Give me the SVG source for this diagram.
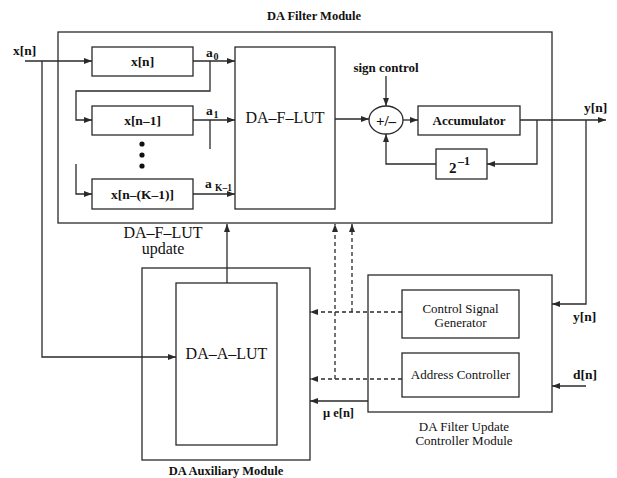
<svg xmlns="http://www.w3.org/2000/svg" width="617" height="478" viewBox="0 0 617 478">
<defs>
<style>
.b{fill:none;stroke:#2a2a2a;stroke-width:1.3}
.l{fill:none;stroke:#2a2a2a;stroke-width:1.3}
.d{fill:none;stroke:#2a2a2a;stroke-width:1.3;stroke-dasharray:4 3}
text{font-family:"Liberation Serif","Times New Roman",serif;fill:#111}
.bt{font-weight:bold;font-size:13.5px}
.rt{font-size:13px}
.big{font-size:16px}
.cap{font-weight:bold;font-size:12.5px}
</style>
<marker id="ah" viewBox="0 0 8 6" refX="8" refY="3" markerWidth="8" markerHeight="6" markerUnits="userSpaceOnUse" orient="auto">
<path d="M0,0 L8,3 L0,6 z" fill="#2a2a2a"/>
</marker>
</defs>
<rect width="617" height="478" fill="#fff"/>

<g id="filter-module">
<rect class="b" x="58" y="32" width="494" height="191"/>
<text class="cap" x="314" y="20" text-anchor="middle">DA Filter Module</text>
</g>
<g id="xn-box">
<rect class="b" x="92" y="47" width="101" height="29"/>
<text class="bt" x="142.5" y="66" text-anchor="middle">x[n]</text>
</g>
<g id="xn1-box">
<rect class="b" x="92" y="106" width="101" height="29"/>
<text class="bt" x="142.5" y="125" text-anchor="middle">x[n–1]</text>
</g>
<g id="xnk-box">
<rect class="b" x="92" y="179" width="101" height="30"/>
<text class="bt" x="142.5" y="199" text-anchor="middle">x[n–(K–1)]</text>
</g>
<g id="dots">
<circle cx="142" cy="144" r="2.6" fill="#111"/>
<circle cx="142" cy="155" r="2.6" fill="#111"/>
<circle cx="142" cy="166" r="2.6" fill="#111"/>
</g>
<g id="da-f-lut">
<rect class="b" x="235" y="47" width="100" height="162"/>
<text class="big" x="285" y="123" text-anchor="middle">DA–F–LUT</text>
</g>
<g id="addsub">
<ellipse class="b" cx="386" cy="120" rx="17" ry="14"/>
<text x="386" y="125.5" text-anchor="middle" style="font-weight:bold;font-size:15px">+/–</text>
</g>
<g id="accumulator">
<rect class="b" x="418" y="106" width="102" height="29"/>
<text class="bt" x="469" y="125" text-anchor="middle" style="font-size:13px">Accumulator</text>
</g>
<g id="shift">
<rect class="b" x="436" y="149" width="51" height="30"/>
<text class="bt" x="449" y="173" style="font-size:15px">2</text>
<text class="bt" x="458" y="165" style="font-size:12px">–1</text>
</g>
<g id="aux-module">
<rect class="b" x="142" y="268" width="168" height="192"/>
<text class="cap" x="226" y="475" text-anchor="middle">DA Auxiliary Module</text>
</g>
<g id="da-a-lut">
<rect class="b" x="176" y="283" width="101" height="162"/>
<text class="big" x="226.5" y="359" text-anchor="middle">DA–A–LUT</text>
</g>
<g id="update-module">
<rect class="b" x="368" y="275" width="184" height="137"/>
<text class="rt" x="464" y="431" text-anchor="middle">DA Filter Update</text>
<text class="rt" x="464" y="445" text-anchor="middle">Controller Module</text>
</g>
<g id="csg">
<rect class="b" x="402" y="290" width="117" height="48"/>
<text class="rt" x="460.5" y="313" text-anchor="middle">Control Signal</text>
<text class="rt" x="460.5" y="327" text-anchor="middle">Generator</text>
</g>
<g id="addr">
<rect class="b" x="402" y="353" width="117" height="44"/>
<text class="rt" x="460.5" y="379" text-anchor="middle">Address Controller</text>
</g>

<g id="connectors">
<path class="l" d="M25,61 H92" marker-end="url(#ah)"/>
<path class="l" d="M42,61 V357 H176" marker-end="url(#ah)"/>
<path class="l" d="M193,61 H235" marker-end="url(#ah)"/>
<path class="l" d="M210,61 V91 H76 V120 H92" marker-end="url(#ah)"/>
<path class="l" d="M193,120 H235" marker-end="url(#ah)"/>
<path class="l" d="M210,120 V149"/>
<path class="l" d="M76,164 V194 H92" marker-end="url(#ah)"/>
<path class="l" d="M193,194 H235" marker-end="url(#ah)"/>
<path class="l" d="M335,119 H369" marker-end="url(#ah)"/>
<path class="l" d="M386,76 V106" marker-end="url(#ah)"/>
<path class="l" d="M403,120 H418" marker-end="url(#ah)"/>
<path class="l" d="M520,120 H606" marker-end="url(#ah)"/>
<path class="l" d="M537,120 V164 H487" marker-end="url(#ah)"/>
<path class="l" d="M436,164 H386 V134" marker-end="url(#ah)"/>
<path class="l" d="M586,120 V304 H552" marker-end="url(#ah)"/>
<path class="l" d="M586,386 H552" marker-end="url(#ah)"/>
<path class="l" d="M227,283 V224" marker-end="url(#ah)"/>
<path class="l" d="M368,401 H310" marker-end="url(#ah)"/>
<path class="d" d="M402,312 H310" marker-end="url(#ah)"/>
<path class="d" d="M402,379 H310" marker-end="url(#ah)"/>
<path class="d" d="M352,312 V224" marker-end="url(#ah)"/>
<path class="d" d="M335,379 V224" marker-end="url(#ah)"/>
</g>

<g id="labels">
<text class="bt" x="13" y="55">x[n]</text>
<text class="bt" x="206" y="57">a</text><text class="bt" x="213.5" y="60" style="font-size:10px">0</text>
<text class="bt" x="206" y="115">a</text><text class="bt" x="213.5" y="118" style="font-size:10px">1</text>
<text class="bt" x="205" y="188">a</text><text class="bt" x="215" y="191" style="font-size:9.5px">K–1</text>
<text class="bt" x="386" y="72" text-anchor="middle" style="font-size:13px">sign control</text>
<text class="bt" x="584" y="112">y[n]</text>
<text class="bt" x="573" y="321">y[n]</text>
<text class="bt" x="573" y="379">d[n]</text>
<text class="bt" x="323" y="417" style="font-size:12.5px">μ e[n]</text>
<text class="big" x="163" y="238" text-anchor="middle">DA–F–LUT</text>
<text class="big" x="163" y="254" text-anchor="middle">update</text>
</g>
</svg>
